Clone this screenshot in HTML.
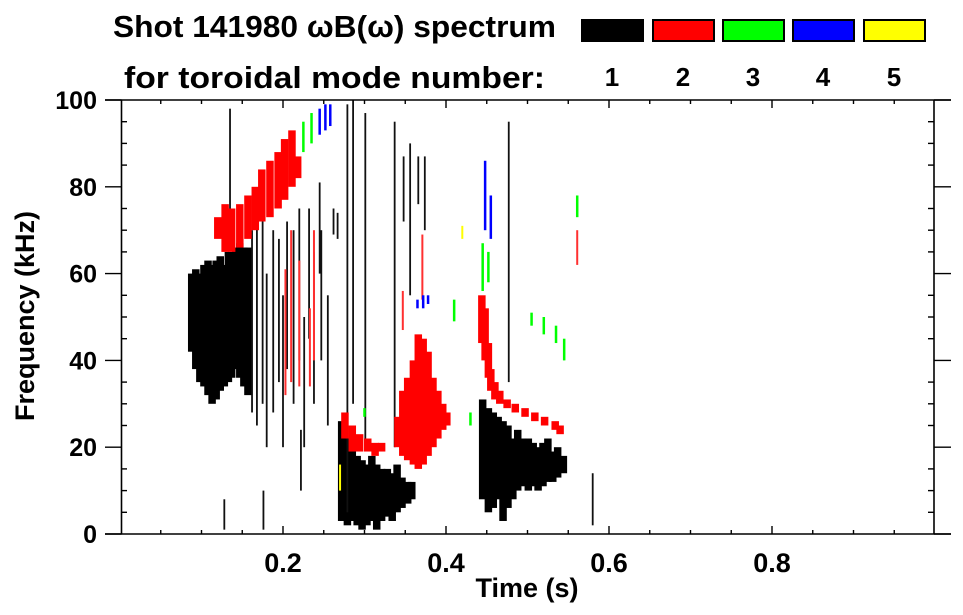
<!DOCTYPE html>
<html><head><meta charset="utf-8"><style>
html,body{margin:0;padding:0;background:#fff;}
svg{display:block;font-family:"Liberation Sans",sans-serif;font-weight:bold;}
</style></head><body>
<svg id="chart" width="963" height="615" viewBox="0 0 963 615" xmlns="http://www.w3.org/2000/svg">
<text x="113" y="37" font-size="31" textLength="443" lengthAdjust="spacingAndGlyphs" fill="#000">Shot 141980 ωB(ω) spectrum</text>
<text x="124" y="88" font-size="31" textLength="421" lengthAdjust="spacingAndGlyphs" fill="#000">for toroidal mode number:</text>
<g id="legend"></g>
<g id="marks"></g>
<g id="axes"></g>
<text transform="translate(34,316) rotate(-90)" text-anchor="middle" font-size="27" textLength="210" lengthAdjust="spacingAndGlyphs" fill="#000">Frequency (kHz)</text>
<text x="527" y="597" text-anchor="middle" font-size="27" textLength="103" lengthAdjust="spacingAndGlyphs" fill="#000">Time (s)</text>
</svg>
<script>
const modeLabels = ["1","2","3","4","5"];
const modeColors = ["#000000","#ff0000","#00ff00","#0000ff","#ffff00"];
const xTicks = [0.2,0.4,0.6,0.8];
const yTicks = [0,20,40,60,80,100];
// blob columns [t, fLow, fHigh]
const mode1Cols = [[0.088,42,60],[0.093,38,61],[0.098,35,60],[0.103,34,62],[0.108,32,63],[0.113,30,62],[0.118,31,63],[0.123,33,64],[0.128,34,62],[0.133,35,65],[0.137,36,64],[0.142,38,66],[0.147,36,67],[0.152,34,66],[0.157,32,66],
[0.272,3,26],[0.279,2,22],[0.285,3,20],[0.291,2,18],[0.297,1,17],[0.303,2,16],[0.309,3,18],[0.315,1,16],[0.321,3,15],[0.328,4,15],[0.334,3,14],[0.340,5,16],[0.346,6,13],[0.353,7,12],[0.358,8,12],
[0.445,8,31],[0.452,5,29],[0.458,6,28],[0.464,8,27],[0.470,3,26],[0.476,6,25],[0.482,8,22],[0.488,10,24],[0.494,11,22],[0.501,10,22],[0.507,11,21],[0.513,10,20],[0.519,11,21],[0.525,12,22],[0.531,12,19],[0.537,13,20],[0.544,14,18]];
const mode1Lines = [[0.162,28,70],[0.168,25,72],[0.175,30,75],[0.180,20,60],[0.188,28,70],[0.195,35,68],[0.200,20,55],[0.205,38,72],[0.213,30,70],[0.220,40,75],[0.226,20,50],[0.232,45,75],[0.238,30,65],[0.245,60,81],[0.247,40,70],[0.255,25,55],[0.262,69,75],[0.267,68,74],[0.222,10,24],[0.135,68,98],
[0.279,5,99],[0.286,30,100],[0.301,20,97],[0.337,20,95],[0.356,55,90],[0.374,70,87],[0.348,72,87],[0.366,76,87],[0.477,35,95],[0.580,2,14],[0.128,1,8],[0.176,1,10]];
const mode2Cols = [[0.120,68,73],[0.129,65,76],[0.137,65,75],[0.147,66,76],[0.157,68,78],[0.166,70,80],[0.174,72,84],[0.184,73,86],[0.194,75,88],[0.202,77,91],[0.211,80,93],[0.218,82,87],
[0.276,22,28],[0.285,19,25],[0.294,19,23],[0.304,19,22],[0.313,18,21],[0.321,19,21],
[0.341,20,27],[0.347,18,33],[0.353,17,36],[0.360,16,40],[0.366,15,46],[0.372,16,45],[0.378,18,42],[0.384,20,36],[0.390,22,33],[0.396,24,30],[0.401,25,28],
[0.444,44,55],[0.448,40,52],[0.452,36,44],[0.455,33,38],[0.460,31,35],[0.466,30,33],[0.475,29,31],[0.485,28,30],[0.497,27,29],[0.509,26,28],[0.521,25,27],[0.534,24,26],[0.540,23,25]];
const mode2Lines = [[0.203,32,61],[0.210,35,70],[0.220,34,63],[0.233,34,52],[0.238,40,70],[0.347,47,56],[0.371,54,69],[0.561,62,70]];
const mode3Lines = [[0.225,88,95],[0.235,90,97],[0.41,49,54],[0.445,56,67],[0.452,58,65],[0.561,73,78],[0.505,48,51],[0.52,46,50],[0.535,44,48],[0.545,40,45],[0.3,27,29],[0.43,25,28]];
const mode4Lines = [[0.245,92,98],[0.252,93,99],[0.258,94,99],[0.365,52,54],[0.372,52,55],[0.378,53,55],[0.448,70,86],[0.455,68,78]];
const mode5Lines = [[0.27,10,16],[0.42,68,71]];

const X0=120, X1=935, Y0=534, Y1=100;
const xs = t => X0 + t*(X1-X0);
const ys = f => Y0 - f/100*(Y0-Y1);
const NS="http://www.w3.org/2000/svg";
const marks=document.getElementById('marks');
function drawSet(arr,color,w,name){
  arr.forEach(d=>{
    const r=document.createElementNS(NS,'rect');
    r.setAttribute('x',xs(d[0])-w/2);
    r.setAttribute('y',ys(d[2]));
    r.setAttribute('width',w);
    r.setAttribute('height',Math.max(1,ys(d[1])-ys(d[2])));
    r.setAttribute('fill',color);
    
    
    marks.appendChild(r);
  });
}
drawSet(mode1Cols,"#000",7.5,'mode1-cell');
drawSet(mode1Lines,"#111",1.8,'mode1-streak');
drawSet(mode2Cols,"#ff0000",7.5,'mode2-cell');
drawSet(mode2Lines,"#ff3030",2,'mode2-streak');
drawSet(mode3Lines,"#00ff00",2.5,'mode3-streak');
drawSet(mode4Lines,"#0000ff",2.5,'mode4-streak');
drawSet(mode5Lines,"#ffff00",2,'mode5-streak');

const legend=document.getElementById('legend');
const boxX=[582,653,723,793,864];
modeLabels.forEach((m,i)=>{
  const r=document.createElementNS(NS,'rect');
  r.setAttribute('x',boxX[i]);r.setAttribute('y',20);r.setAttribute('width',61);r.setAttribute('height',21);
  r.setAttribute('fill',modeColors[i]);r.setAttribute('stroke','#000');r.setAttribute('stroke-width',2);
  
  
  legend.appendChild(r);
  const t=document.createElementNS(NS,'text');
  t.setAttribute('x',boxX[i]+30);t.setAttribute('y',86);t.setAttribute('text-anchor','middle');
  t.setAttribute('font-size','26');t.textContent=m;
  
  
  legend.appendChild(t);
});

const axes=document.getElementById('axes');
function line(x1,y1,x2,y2,w,name){
  const l=document.createElementNS(NS,'line');
  l.setAttribute('x1',x1);l.setAttribute('y1',y1);l.setAttribute('x2',x2);l.setAttribute('y2',y2);
  l.setAttribute('stroke','#000');l.setAttribute('stroke-width',w||1.6);
  
  
  axes.appendChild(l);
}
line(105,Y1,951,Y1,1.6,'plot-frame-top');
line(105,Y0,951,Y0,1.6,'plot-frame-bottom');
line(X0+1.5,Y1,X0+1.5,Y0,1.6,'plot-frame-left');
line(X1-1,Y1,X1-1,Y0,1.6,'plot-frame-right');
for(let i=1;i<20;i++){
  const t=i*0.05, major=(i%4===0), len=major?8:4;
  line(xs(t),Y0,xs(t),Y0-len,1.4,'x-tick');
  line(xs(t),Y1,xs(t),Y1+len,1.4,'x-tick-top');
}
for(let f=0;f<=100;f+=5){
  const major=(f%20===0);
  if(major){line(105,ys(f),X0+1.5,ys(f),1.4,'y-tick');line(X1-1,ys(f),951,ys(f),1.4,'y-tick-right');}
  else{line(X0+1.5,ys(f),X0+7,ys(f),1.4,'y-minor-tick');line(X1-7,ys(f),X1-1,ys(f),1.4,'y-minor-tick-right');}
}
xTicks.forEach(t=>{
  const tx=document.createElementNS(NS,'text');
  tx.setAttribute('x',xs(t));tx.setAttribute('y',572);tx.setAttribute('text-anchor','middle');tx.setAttribute('font-size','27');
  tx.textContent=t.toFixed(1);
  
  
  axes.appendChild(tx);
});
yTicks.forEach(f=>{
  const tx=document.createElementNS(NS,'text');
  tx.setAttribute('x',97);tx.setAttribute('y',ys(f)+9);tx.setAttribute('text-anchor','end');tx.setAttribute('font-size','25');
  tx.textContent=f;
  
  
  axes.appendChild(tx);
});
</script>
</body></html>
